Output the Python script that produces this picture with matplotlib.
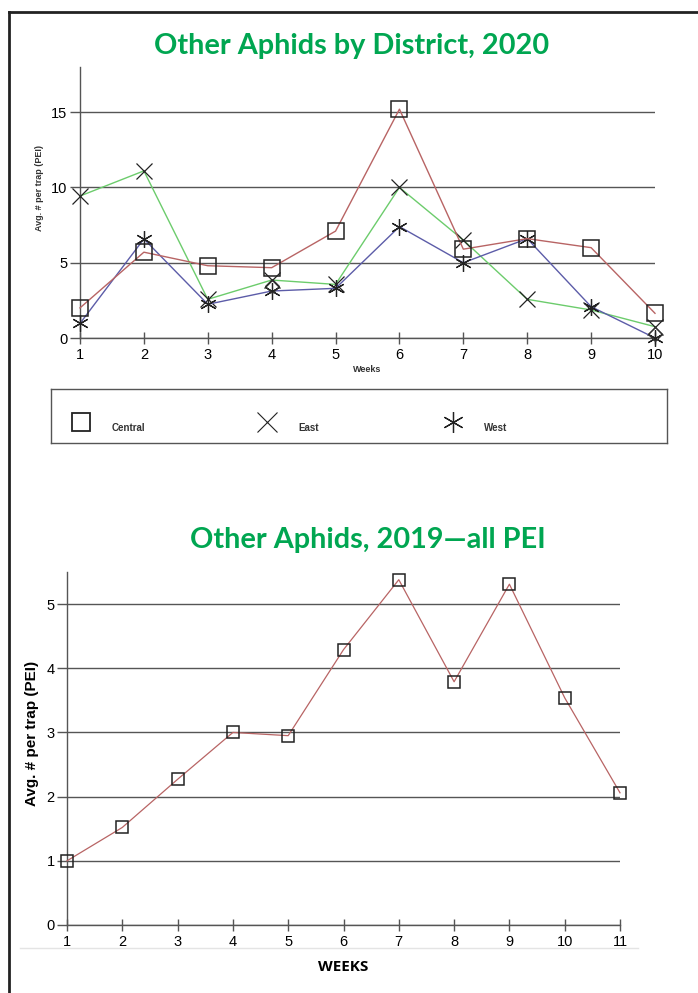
import numpy as np
import matplotlib
matplotlib.use("Agg")
import matplotlib.pyplot as plt
from matplotlib.lines import Line2D

# --- data ---
weeks_2020 = [1, 2, 3, 4, 5, 6, 7, 8, 9, 10]
central = [2.0, 5.7, 4.8, 4.67, 7.1, 15.2, 5.9, 6.6, 6.0, 1.64]
east = [9.43, 11.1, 2.57, 3.85, 3.56, 10.0, 6.5, 2.57, 1.86, 0.75]
west = [0.97, 6.58, 2.24, 3.12, 3.3, 7.4, 5.0, 6.6, 2.08, 0.0]
stray = [np.nan, np.nan, np.nan, 3.45, np.nan, np.nan, np.nan, np.nan, np.nan, 0.27]

weeks_2019 = [1, 2, 3, 4, 5, 6, 7, 8, 9, 10, 11]
all_pei = [1.0, 1.52, 2.27, 3.0, 2.95, 4.29, 5.38, 3.79, 5.31, 3.54, 2.06]

title_top = "Other Aphids by District, 2020"
title_bottom = "Other Aphids, 2019\u2014all PEI"
legend_names = ["Central", "East", "West"]

GREEN = "#00a651"
GRID = "#555555"
W, H = 698, 993

fig = plt.figure(figsize=(W / 100, H / 100), dpi=100)
fig.patch.set_facecolor("white")


def box(l, t, r, b):
    # pixel box -> figure fraction rect
    return [l / W, 1 - b / H, (r - l) / W, (b - t) / H]


# outer frame (top and left)
fig.add_artist(Line2D([9 / W, 1], [1 - 12 / H, 1 - 12 / H], color="#222222", lw=2))
fig.add_artist(Line2D([9 / W, 9 / W], [1 - 12 / H, 0], color="#222222", lw=2))

asterisk = (6, 2, 0)


def style_axis(ax):
    for s in ["top", "right"]:
        ax.spines[s].set_visible(False)
    for s in ["left", "bottom"]:
        ax.spines[s].set_color(GRID)
        ax.spines[s].set_linewidth(1.0)
    ax.yaxis.grid(True, color=GRID, lw=1.0)
    ax.set_axisbelow(True)
    ax.tick_params(axis="y", direction="out", length=7, width=1, color=GRID,
                   labelsize=10.5, pad=2)
    ax.tick_params(axis="x", direction="inout", length=8, width=1, color=GRID,
                   labelsize=10.5, pad=3)
    for lab in ax.get_xticklabels() + ax.get_yticklabels():
        lab.set_fontfamily("Liberation Sans")


# --- top chart ---
ax1 = fig.add_axes(box(80, 67, 655, 338))
ax1.plot(weeks_2020, central, color="#b86464", lw=1, marker="s", ms=11,
         mfc="none", mec="#222222", mew=1.1, clip_on=False, zorder=4)
ax1.plot(weeks_2020, east, color="#6ccc6c", lw=1, marker="x", ms=12,
         mec="#222222", mew=0.9, clip_on=False, zorder=3)
ax1.plot(weeks_2020, west, color="#5c5ca8", lw=1, marker=asterisk, ms=12,
         mec="#222222", mew=0.9, clip_on=False, zorder=3)
ax1.plot(weeks_2020, stray, ls="none", marker="D", ms=7, mfc="none",
         mec="#333333", mew=0.9, clip_on=False, zorder=3)
ax1.set_xlim(1, 10)
ax1.set_ylim(0, 18)
ax1.set_xticks(weeks_2020)
ax1.set_yticks([0, 5, 10, 15])
style_axis(ax1)
ax1.set_xlabel("Weeks", fontsize=6.5, fontweight="bold", color="#333333",
               family="Liberation Sans", labelpad=2)
ax1.set_ylabel("Avg. # per trap (PEI)", fontsize=6.5, fontweight="bold",
               color="#333333", family="Liberation Sans")
ax1.yaxis.set_label_coords(-0.062, 0.553)

fig.text(352 / W, 1 - 46 / H, title_top, color=GREEN, fontsize=20.8,
         fontweight="bold", family="Lato", ha="center", va="center")

# --- legend box ---
axl = fig.add_axes(box(51, 389, 667, 443))
axl.set_xlim(0, 1)
axl.set_ylim(0, 1)
axl.set_xticks([])
axl.set_yticks([])
for s in axl.spines.values():
    s.set_color("#555555")
    s.set_linewidth(1)
leg_markers = [dict(marker="s", ms=13, mfc="none", mew=1.3),
               dict(marker="x", ms=15, mew=0.8),
               dict(marker=asterisk, ms=15, mew=0.9)]
leg_x = [0.049, 0.351, 0.653]
for name, mk, lx in zip(legend_names, leg_markers, leg_x):
    axl.plot([lx], [0.39], ls="none", mec="#222222", **mk)
    axl.text(lx + 0.05, 0.28, name, fontsize=7, fontweight="bold",
             family="Liberation Sans", color="#333333", va="center")

# --- bottom chart ---
fig.text(368 / W, 1 - 540 / H, title_bottom, color=GREEN, fontsize=20.8,
         fontweight="bold", family="Lato", ha="center", va="center")

ax2 = fig.add_axes(box(67, 572, 620, 925))
ax2.plot(weeks_2019, all_pei, color="#b86464", lw=0.9, marker="s", ms=9,
         mfc="none", mec="#222222", mew=1.1, clip_on=False, zorder=4)
ax2.set_xlim(1, 11)
ax2.set_ylim(0, 5.5)
ax2.set_xticks(weeks_2019)
ax2.set_yticks([0, 1, 2, 3, 4, 5])
style_axis(ax2)
ax2.set_xlabel("WEEKS", fontsize=11, fontweight="bold", family="Open Sans",
               color="black", labelpad=8)
ax2.set_ylabel("Avg. # per trap (PEI)", fontsize=11, fontweight="bold",
               family="Liberation Sans", color="black")
ax2.yaxis.set_label_coords(-0.05, 0.544)

# faint rule under the bottom chart tick labels
fig.add_artist(Line2D([20 / W, 638 / W], [1 - 948 / H, 1 - 948 / H],
                      color="#e4e4e4", lw=1))

fig.savefig("out.png", dpi=100, facecolor="white")
